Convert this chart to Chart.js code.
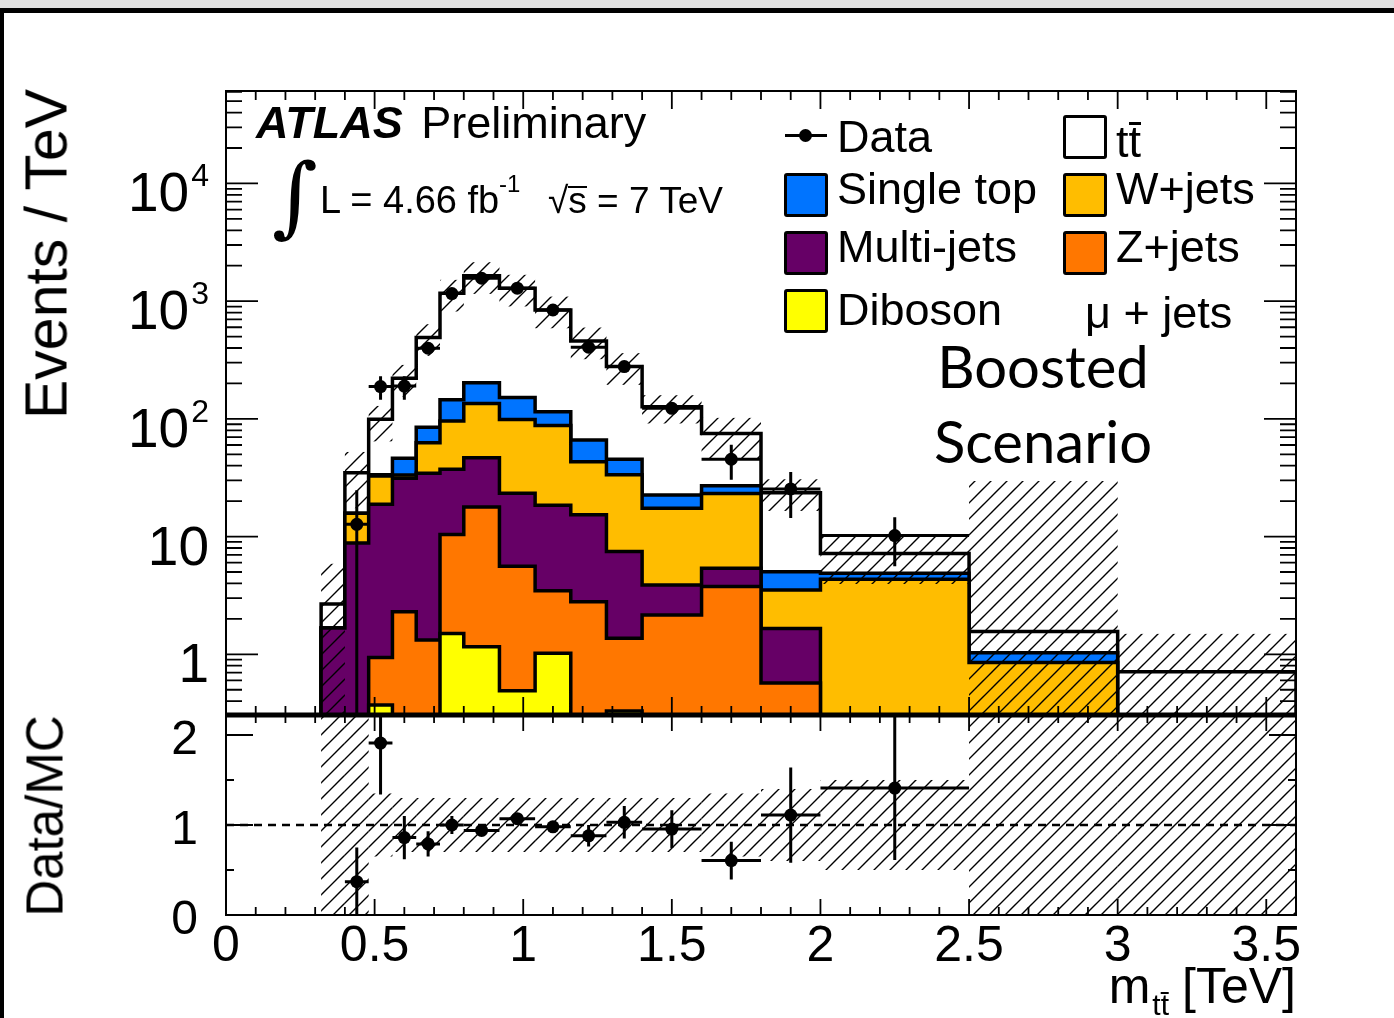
<!DOCTYPE html>
<html lang="en">

<head>
  <meta charset="UTF-8">
  <title>ATLAS m_tt boosted, mu + jets</title>
  <script src="https://cdn.jsdelivr.net/npm/chart.js"></script>
  <style>
    body {
      margin: 0;
      background: #fff;
      font-family: "Liberation Sans", Arial, sans-serif;
    }

    #page {
      position: relative;
      width: 1394px;
      height: 1018px;
      overflow: hidden;
      background: #fff;
    }

    #page canvas {
      position: absolute;
      left: 0;
      top: 0;
    }

    .t {
      position: absolute;
      white-space: nowrap;
      line-height: 1;
      color: #000;
    }

    .box {
      position: absolute;
      width: 38px;
      height: 38px;
      border: 3px solid #000;
      border-radius: 3px;
    }

    .barred {
      display: inline-block;
      position: relative;
    }

    .barred i {
      position: absolute;
      left: 0;
      right: 0;
      background: #000;
    }
  </style>
</head>

<body>
  <div id="page">
    <canvas id="main-chart" width="1394" height="1018"></canvas>
    <canvas id="ratio-chart" width="1394" height="1018"></canvas>
    <div style="position:absolute;left:0;top:0;width:1394px;height:8px;background:#dfdfdf"></div>
    <div style="position:absolute;left:0;top:8px;width:1394px;height:5px;background:#000"></div>
    <div style="position:absolute;left:0;top:8px;width:4px;height:1010px;background:#000"></div>
  </div>

  <script>
    // bin edges in TeV
    const binEdges = [0.32, 0.40, 0.48, 0.56, 0.64, 0.72, 0.80, 0.92, 1.04, 1.16, 1.28, 1.40, 1.60, 1.80, 2.00, 2.50, 3.00, 3.60];

    // MC per process (events / TeV)
    const diboson   = [0, 0, 0.37, 0, 0, 1.5, 1.16, 0.49, 1.02, 0, 0.33, 0, 0, 0, 0, 0, 0];
    const zjets     = [0, 0, 0.57, 2.3, 1.32, 8.9, 16.7, 5.1, 2.45, 2.8, 1.04, 2.16, 3.76, 0.57, 0, 0, 0];
    const multijets = [1.67, 8.8, 17.9, 29, 33.2, 26.9, 28.9, 17.7, 15, 12.5, 6.1, 1.72, 1.62, 1.09, 0, 0, 0];
    const wjets     = [0, 7.0, 13.9, 2.1, 28.3, 58.7, 88, 75.7, 69.5, 28, 26, 13.5, 17.9, 1.86, 4.34, 0.85, 0];
    const singletop = [0, 0, 0.8, 12.9, 22.2, 49, 68, 53, 27, 22.7, 12, 5.2, 3.8, 1.51, 0.54, 0.18, 0];
    const ttbar     = [1.0, 19.1, 65.5, 174.7, 405, 1022, 1445, 1136, 726, 393, 232.6, 104.4, 47.9, 18.57, 2.32, 0.53, 0.71];

    // data and its errors
    const dataVals  = [null, 12.7, 188, 190, 398, 1160, 1566, 1288, 841, 406, 278, 123, 45.4, 25.4, 10.2, null, null];
    const dataErrUp = [0, 12, 42, 40, 30, 40, 45, 40, 30, 22, 18, 12, 15, 10, 4.4, 0, 0];
    const dataErrDn = [0, 12.7, 43, 45, 30, 40, 45, 40, 30, 22, 18, 12, 15, 11, 4.6, 0, 0];

    // relative MC uncertainty (hatched band)
    const bandUp = [1.2, 0.5, 0.3, 0.3, 0.3, 0.3, 0.3, 0.3, 0.3, 0.3, 0.3, 0.25, 0.36, 0.3, 0.45, 18, 1.1];
    const bandDn = [1, 0.5, 0.35, 0.3, 0.3, 0.3, 0.3, 0.3, 0.3, 0.3, 0.3, 0.28, 0.4, 0.3, 0.45, 1, 1];

    // ratio panel
    const ratioVals = [null, 0.37, 1.91, 0.86, 0.79, 1.0, 0.94, 1.07, 0.98, 0.88, 1.03, 0.955, 0.605, 1.11, 1.41, null, null];
    const ratioErr  = [0, 0.38, 0.57, 0.24, 0.14, 0.1, 0.05, 0.05, 0.06, 0.12, 0.18, 0.21, 0.21, 0.53, 0.8, 0, 0];
    const ratioBand = [2, 2, 0.35, 0.3, 0.3, 0.3, 0.3, 0.3, 0.3, 0.3, 0.3, 0.3, 0.35, 0.4, 0.5, 2, 2];

    // ticks
    const xTickVals = [0, 0.5, 1, 1.5, 2, 2.5, 3, 3.5];
    const xTickLabels = ['0', '0.5', '1', '1.5', '2', '2.5', '3', '3.5'];
    const yTickVals = [1, 10, 100, 1000, 10000];
    const yTickLabels = [['1', ''], ['10', ''], ['10', '2'], ['10', '3'], ['10', '4']];
    const ratioTickVals = [0, 1, 2];
    const ratioTickLabels = ['0', '1', '2'];

    const colors = {
      diboson: '#ffff00',
      zjets: '#ff7700',
      multijets: '#660066',
      wjets: '#ffbd00',
      singletop: '#0074ff',
      ttbar: '#ffffff'
    };

    const FLOOR = 0.01;
    const FONT = '"Liberation Sans", Arial, sans-serif';

    function cumulate(...series) {
      return series[0].map((_, i) => series.reduce((s, arr) => s + arr[i], 0));
    }

    const cum1 = cumulate(diboson);
    const cum2 = cumulate(diboson, zjets);
    const cum3 = cumulate(diboson, zjets, multijets);
    const cum4 = cumulate(diboson, zjets, multijets, wjets);
    const cum5 = cumulate(diboson, zjets, multijets, wjets, singletop);
    const total = cumulate(diboson, zjets, multijets, wjets, singletop, ttbar);

    function histPoints(values) {
      const pts = [{ x: binEdges[0], y: FLOOR }];
      values.forEach((v, i) => pts.push({ x: binEdges[i], y: Math.max(v, FLOOR) }));
      const last = values.length - 1;
      pts.push({ x: binEdges[last + 1], y: Math.max(values[last], FLOOR) });
      pts.push({ x: binEdges[last + 1], y: FLOOR });
      return pts;
    }

    function centers(values) {
      const pts = [];
      values.forEach((v, i) => {
        if (v != null) pts.push({ x: (binEdges[i] + binEdges[i + 1]) / 2, y: v });
      });
      return pts;
    }

    function histDataset(label, values, color, order) {
      return {
        label: label,
        data: histPoints(values),
        order: order,
        stepped: true,
        fill: 'start',
        backgroundColor: color,
        borderColor: '#000',
        borderWidth: 3.5,
        pointRadius: 0,
        pointHoverRadius: 0
      };
    }

    function makeHatch(ctx) {
      const s = 16;
      const c = document.createElement('canvas');
      c.width = s;
      c.height = s;
      const g = c.getContext('2d');
      g.strokeStyle = '#000';
      g.lineWidth = 1.4;
      g.beginPath();
      g.moveTo(-2, s + 2); g.lineTo(s + 2, -2);
      g.moveTo(-2, 2); g.lineTo(2, -2);
      g.moveTo(s - 2, s + 2); g.lineTo(s + 2, s - 2);
      g.stroke();
      return ctx.createPattern(c, 'repeat');
    }

    function clipArea(ctx, a) {
      ctx.beginPath();
      ctx.rect(a.left, a.top, a.right - a.left, a.bottom - a.top);
      ctx.clip();
    }

    function drawXTicks(ctx, a, x, major, minor) {
      ctx.beginPath();
      for (let k = 0; k <= 36; k++) {
        const px = x.getPixelForValue(k / 10);
        const len = k % 5 === 0 ? major : minor;
        ctx.moveTo(px, a.bottom); ctx.lineTo(px, a.bottom - len);
        ctx.moveTo(px, a.top); ctx.lineTo(px, a.top + len);
      }
      ctx.stroke();
    }

    // band, error bars (drawn before the data markers) and ROOT-style frame
    const mainDecor = {
      id: 'mainDecor',
      beforeDatasetDraw(chart, args) {
        if (args.index !== 0) return;
        const { ctx, chartArea: a, scales: { x, y } } = chart;
        ctx.save();
        clipArea(ctx, a);
        ctx.fillStyle = makeHatch(ctx);
        total.forEach((t, i) => {
          const x0 = x.getPixelForValue(binEdges[i]);
          const x1 = x.getPixelForValue(binEdges[i + 1]);
          const hi = y.getPixelForValue(t * (1 + bandUp[i]));
          const lo = y.getPixelForValue(Math.max(t * (1 - bandDn[i]), FLOOR));
          ctx.fillRect(x0, hi, x1 - x0, lo - hi);
        });
        ctx.strokeStyle = '#000';
        ctx.lineWidth = 3;
        ctx.beginPath();
        dataVals.forEach((v, i) => {
          if (v == null) return;
          const x0 = x.getPixelForValue(binEdges[i]);
          const x1 = x.getPixelForValue(binEdges[i + 1]);
          const cx = (x0 + x1) / 2;
          const py = y.getPixelForValue(v);
          ctx.moveTo(x0, py); ctx.lineTo(x1, py);
          ctx.moveTo(cx, y.getPixelForValue(v + dataErrUp[i]));
          ctx.lineTo(cx, y.getPixelForValue(Math.max(v - dataErrDn[i], FLOOR)));
        });
        ctx.stroke();
        ctx.restore();
      },
      afterDraw(chart) {
        const { ctx, chartArea: a, scales: { x, y } } = chart;
        ctx.save();
        ctx.strokeStyle = '#000';
        ctx.lineWidth = 2;
        ctx.strokeRect(a.left, a.top, a.right - a.left, a.bottom - a.top);
        ctx.lineWidth = 5;
        ctx.beginPath();
        ctx.moveTo(a.left, a.bottom); ctx.lineTo(a.right, a.bottom);
        ctx.stroke();
        ctx.lineWidth = 1.8;
        drawXTicks(ctx, a, x, 18, 9);
        ctx.beginPath();
        for (let d = -1; d <= 4; d++) {
          for (let m = 1; m <= 9; m++) {
            const v = m * Math.pow(10, d);
            if (v < y.min || v > y.max) continue;
            const py = y.getPixelForValue(v);
            const len = m === 1 ? 32 : 16;
            ctx.moveTo(a.left, py); ctx.lineTo(a.left + len, py);
            ctx.moveTo(a.right, py); ctx.lineTo(a.right - len, py);
          }
        }
        ctx.stroke();
        ctx.fillStyle = '#000';
        ctx.textBaseline = 'alphabetic';
        yTickVals.forEach((v, i) => {
          const py = y.getPixelForValue(v);
          const [base, exp] = yTickLabels[i];
          let right = 209;
          if (exp) {
            ctx.font = '32px ' + FONT;
            const w = ctx.measureText(exp).width;
            ctx.textAlign = 'left';
            ctx.fillText(exp, right - w, py + 3);
            right -= w + 2;
          }
          ctx.font = '55px ' + FONT;
          ctx.textAlign = 'right';
          ctx.fillText(base, right, py + 28);
        });
        ctx.restore();
      }
    };

    const ratioDecor = {
      id: 'ratioDecor',
      beforeDatasetDraw(chart, args) {
        if (args.index !== 0) return;
        const { ctx, chartArea: a, scales: { x, y } } = chart;
        ctx.save();
        clipArea(ctx, a);
        ctx.fillStyle = makeHatch(ctx);
        ratioBand.forEach((r, i) => {
          const x0 = x.getPixelForValue(binEdges[i]);
          const x1 = x.getPixelForValue(binEdges[i + 1]);
          const hi = y.getPixelForValue(1 + r);
          const lo = y.getPixelForValue(1 - r);
          ctx.fillRect(x0, hi, x1 - x0, lo - hi);
        });
        ctx.strokeStyle = '#000';
        ctx.lineWidth = 3;
        ctx.beginPath();
        ratioVals.forEach((v, i) => {
          if (v == null) return;
          const x0 = x.getPixelForValue(binEdges[i]);
          const x1 = x.getPixelForValue(binEdges[i + 1]);
          const cx = (x0 + x1) / 2;
          const py = y.getPixelForValue(v);
          ctx.moveTo(x0, py); ctx.lineTo(x1, py);
          ctx.moveTo(cx, y.getPixelForValue(v + ratioErr[i]));
          ctx.lineTo(cx, y.getPixelForValue(v - ratioErr[i]));
        });
        ctx.stroke();
        ctx.restore();
      },
      afterDraw(chart) {
        const { ctx, chartArea: a, scales: { x, y } } = chart;
        ctx.save();
        ctx.strokeStyle = '#000';
        ctx.lineWidth = 2;
        ctx.strokeRect(a.left, a.top, a.right - a.left, a.bottom - a.top);
        ctx.lineWidth = 1.8;
        drawXTicks(ctx, a, x, 16, 8);
        ctx.beginPath();
        for (let k = 0; k <= 4; k++) {
          const py = y.getPixelForValue(k / 2);
          const len = k % 2 === 0 ? 27 : 8;
          ctx.moveTo(a.left, py); ctx.lineTo(a.left + len, py);
          ctx.moveTo(a.right, py); ctx.lineTo(a.right - len, py);
        }
        ctx.stroke();
        ctx.fillStyle = '#000';
        ctx.textBaseline = 'alphabetic';
        ctx.font = '48px ' + FONT;
        ctx.textAlign = 'right';
        ratioTickVals.forEach((v, i) => {
          ctx.fillText(ratioTickLabels[i], 198, y.getPixelForValue(v) + 19);
        });
        ctx.font = '50px ' + FONT;
        ctx.textAlign = 'center';
        xTickVals.forEach((v, i) => {
          ctx.fillText(xTickLabels[i], x.getPixelForValue(v), 961);
        });
        ctx.restore();
      }
    };

    const commonOptions = {
      responsive: false,
      animation: false,
      events: [],
      plugins: { legend: { display: false }, tooltip: { enabled: false } },
      elements: { line: { tension: 0 } }
    };

    new Chart(document.getElementById('main-chart'), {
      type: 'line',
      data: {
        datasets: [
          {
            label: 'Data',
            data: centers(dataVals),
            order: 0,
            showLine: false,
            pointRadius: 6.5,
            pointHoverRadius: 6.5,
            pointBackgroundColor: '#000',
            pointBorderWidth: 0
          },
          histDataset('Diboson', cum1, colors.diboson, 1),
          histDataset('Z+jets', cum2, colors.zjets, 2),
          histDataset('Multi-jets', cum3, colors.multijets, 3),
          histDataset('W+jets', cum4, colors.wjets, 4),
          histDataset('Single top', cum5, colors.singletop, 5),
          histDataset('ttbar', total, colors.ttbar, 6)
        ]
      },
      options: {
        ...commonOptions,
        layout: { padding: { left: 226, right: 98, top: 91, bottom: 303 } },
        scales: {
          x: { type: 'linear', min: 0, max: 3.6, bounds: 'data', display: false },
          y: { type: 'logarithmic', min: 0.305, max: 61000, bounds: 'data', display: false }
        }
      },
      plugins: [mainDecor]
    });

    new Chart(document.getElementById('ratio-chart'), {
      type: 'line',
      data: {
        datasets: [
          {
            label: 'Data/MC',
            data: centers(ratioVals),
            order: 0,
            showLine: false,
            pointRadius: 6.5,
            pointHoverRadius: 6.5,
            pointBackgroundColor: '#000',
            pointBorderWidth: 0
          },
          {
            label: 'unity',
            data: [{ x: 0, y: 1 }, { x: 3.6, y: 1 }],
            order: 1,
            borderColor: '#000',
            borderWidth: 2.5,
            borderDash: [8, 6],
            pointRadius: 0,
            fill: false
          }
        ]
      },
      options: {
        ...commonOptions,
        layout: { padding: { left: 226, right: 98, top: 715, bottom: 103 } },
        scales: {
          x: { type: 'linear', min: 0, max: 3.6, bounds: 'data', display: false },
          y: { type: 'linear', min: 0, max: 2.222, bounds: 'data', display: false }
        }
      },
      plugins: [ratioDecor]
    });

    // text overlay
    const page = document.getElementById('page');

    function put(html, x, base, size, opts = {}) {
      const d = document.createElement('div');
      d.className = 't';
      d.innerHTML = html;
      d.style.fontSize = size + 'px';
      d.style.left = x + 'px';
      d.style.top = (base - (opts.asc || 0.8465) * size) + 'px';
      if (opts.align === 'right') d.style.transform = 'translateX(-100%)';
      if (opts.align === 'center') d.style.transform = 'translateX(-50%)';
      if (opts.style) d.style.cssText += opts.style;
      page.appendChild(d);
      return d;
    }

    // letter with a bar above it (top offset and thickness in px)
    function barred(ch, top, h) {
      return '<span class="barred">' + ch + '<i style="top:' + top + 'px;height:' + h + 'px"></i></span>';
    }

    function box(x, y, color) {
      const b = document.createElement('div');
      b.className = 'box';
      b.style.left = x + 'px';
      b.style.top = y + 'px';
      b.style.background = color;
      page.appendChild(b);
    }

    put('<b><i>ATLAS</i></b> <span style="margin-left:6px">Preliminary</span>', 256, 138, 45);
    put('&#8747;', 272, 226, 88, { style: 'font-family:"DejaVu Serif",serif;font-style:italic;' });
    put('L = 4.66 fb', 320, 213, 38);
    put('-1', 499, 192, 24);
    put('&#8730;' + barred('s', 4, 2) + ' = 7 TeV', 548, 213, 37);

    // legend
    const mk = document.createElement('div');
    mk.style.cssText = 'position:absolute;left:785px;top:134px;width:42px;height:3px;background:#000';
    page.appendChild(mk);
    const dot = document.createElement('div');
    dot.style.cssText = 'position:absolute;left:799px;top:129px;width:13px;height:13px;border-radius:50%;background:#000';
    page.appendChild(dot);
    put('Data', 837, 152, 45);

    box(1063, 115, colors.ttbar);
    put('t' + barred('t', 3, 3), 1116, 157, 45);
    box(784, 173, colors.singletop);
    put('Single top', 837, 204, 45);
    box(1063, 173, colors.wjets);
    put('W+jets', 1116, 204, 45);
    box(784, 231, colors.multijets);
    put('Multi-jets', 837, 262, 45);
    box(1063, 231, colors.zjets);
    put('Z+jets', 1116, 262, 45);
    box(784, 289, colors.diboson);
    put('Diboson', 837, 325, 45);
    put('&mu; + jets', 1085, 328, 45);

    put('Boosted', 1043, 388, 58, { align: 'center', asc: 0.887, style: 'font-family:Lato,sans-serif;' });
    put('Scenario', 1043, 463, 58, { align: 'center', asc: 0.887, style: 'font-family:Lato,sans-serif;' });

    // axis titles
    put('Events / TeV', 47, 254, 59, { style: 'transform:translate(-50%,-50%) rotate(-90deg);top:254px;' });
    put('Data/MC', 45, 816, 51, { style: 'transform:translate(-50%,-50%) rotate(-90deg);top:816px;' });
    put('m<span style="font-size:30px;position:relative;top:12px;margin:0 13px 0 2px">t' + barred('t', 2, 2) + '</span>[TeV]',
      1296, 1003, 50, { align: 'right' });
  </script>
</body>

</html>
